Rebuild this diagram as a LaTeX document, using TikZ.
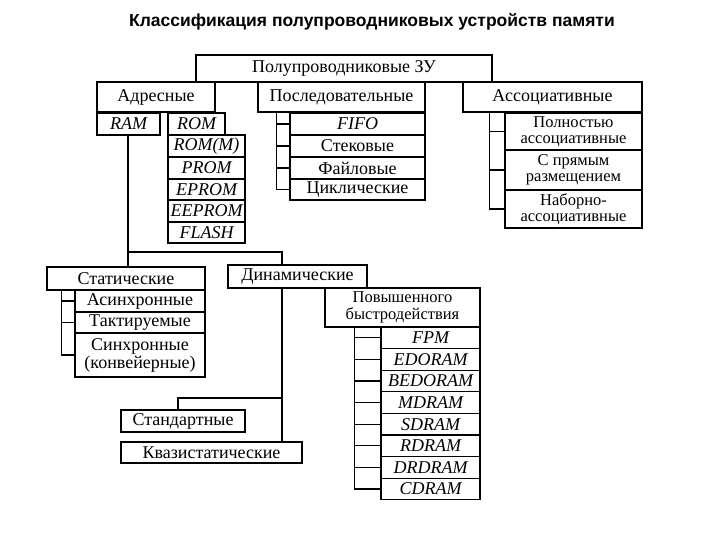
\documentclass[tikz,border=0pt]{standalone}
\usepackage{fontspec}
\setmainfont{Liberation Serif}
\newfontfamily\ttl{Liberation Sans}
\begin{document}
\begin{tikzpicture}[x=1pt,y=-1pt,
  box/.style={draw,line width=1.1pt,inner sep=0pt,align=center,font=\fontsize{18}{18}\selectfont},
  sbox/.style={box,font=\fontsize{16.5}{16.5}\selectfont},
  ln/.style={line width=1.1pt}]
\useasboundingbox (0,0) rectangle (720,540);
\newcommand\bx[7][box]{\node[#1,minimum width={(#5)-(#3)},minimum height={(#6)-(#4)}] (#2) at ({((#3)+(#5))/2},{((#4)+(#6))/2}) {#7};}
\node[font=\ttl\bfseries\fontsize{17.5}{18}\selectfont] (title) at (372,22) {Классификация полупроводниковых устройств памяти};
\bx{top}{196}{55}{492}{82}{Полупроводниковые ЗУ}
\bx{adr}{97}{82}{215}{112}{Адресные}
\bx{seq}{258}{82}{425}{112}{Последовательные}
\bx{asc}{463}{82}{642}{112}{Ассоциативные}
% address
\bx{ram}{97}{113}{160}{135}{\itshape RAM}
\bx{rom}{168}{113}{225}{135}{\itshape ROM}
\bx{romm}{168}{135}{245}{157}{\itshape ROM(M)}
\bx{prom}{168}{157}{245}{179}{\itshape PROM}
\bx{eprom}{168}{179}{245}{200}{\itshape EPROM}
\bx{eeprom}{168}{200}{245}{222}{\itshape EEPROM}
\bx{flash}{168}{222}{245}{243}{\itshape FLASH}
% sequential
\bx{fifo}{290}{113}{425}{135}{\itshape FIFO}
\bx{stack}{290}{135}{425}{157}{Стековые}
\bx{file}{290}{157}{425}{179}{Файловые}
\bx{cyc}{290}{179}{425}{200}{Циклические}
\draw[ln] ([xshift=-13pt]fifo.north west) -- ([xshift=-13pt]cyc.west);
\foreach \n in {fifo,stack,file,cyc} \draw[ln] (\n.west) -- ++(-13,0);
% associative
\bx[sbox]{full}{505}{113}{642}{150}{Полностью\\ассоциативные}
\bx[sbox]{direct}{505}{150}{642}{190}{С прямым\\размещением}
\bx[sbox]{set}{505}{190}{642}{228}{Наборно-\\ассоциативные}
\draw[ln] ([xshift=-15pt]full.north west) -- ([xshift=-15pt]set.west);
\foreach \n in {full,direct,set} \draw[ln] (\n.west) -- ++(-15,0);
% RAM split
\bx{stat}{47}{267}{205}{290}{Статические}
\bx{dyn}{228}{265}{367}{288}{Динамические}
\coordinate (jl) at (128,252);
\coordinate (jr) at (282,252);
\draw[ln] (ram.south -| jl) -- (jl) -- (jr) -- (jr |- dyn.north);
\draw[ln] (jl) -- (jl |- stat.north);
% static
\bx{async}{75}{290}{205}{312}{Асинхронные}
\bx{clk}{75}{312}{205}{333}{Тактируемые}
\bx{sync}{75}{333}{205}{377}{Синхронные\\(конвейерные)}
\draw[ln] ([xshift=-13pt]async.north west) -- ([xshift=-13pt]sync.west);
\foreach \n in {async,clk,sync} \draw[ln] (\n.west) -- ++(-13,0);
% dynamic
\bx{std}{121}{410}{245}{432}{Стандартные}
\bx{quasi}{121}{442}{302}{463}{Квазистатические}
\coordinate (jd) at (282,398);
\draw[ln] (dyn.south -| jd) -- (jd |- quasi.north);
\draw[ln] (jd) -- (178,398) coordinate (js) -- (js |- std.north);
\bx[sbox]{fast}{325}{288}{480}{327}{Повышенного\\быстродействия}
\foreach \n/\t [count=\i from 0] in {fpm/FPM,edo/EDORAM,bedo/BEDORAM,md/MDRAM,sd/SDRAM,rd/RDRAM,drd/DRDRAM,cd/CDRAM}{
  \bx{\n}{381}{327+\i*21.6}{480}{348.6+\i*21.6}{\itshape \t}
  \draw[ln] (\n.west) -- ++(-26,0);
}
\draw[ln] ([xshift=-26pt]fpm.north west) -- ([xshift=-26pt]cd.west);
\end{tikzpicture}
\end{document}
